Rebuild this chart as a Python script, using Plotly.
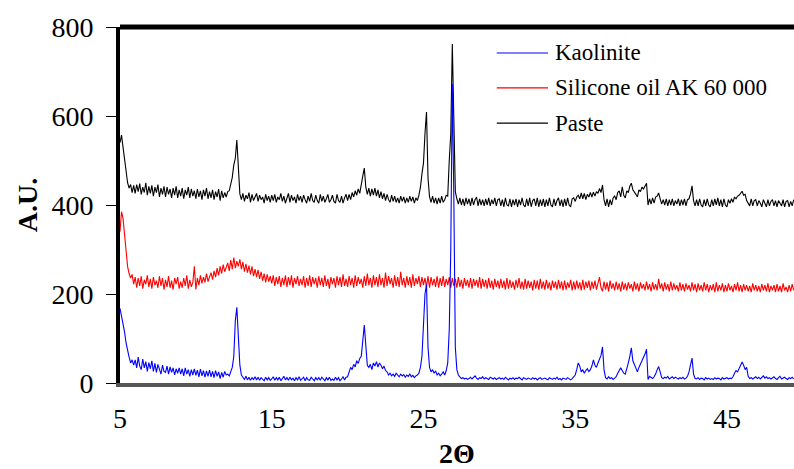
import plotly.graph_objects as go

# ---------------- data (2-theta from 5.0 deg in 0.1 deg steps) ----------------
two_theta_start = 5.0
two_theta_step = 0.1

kaolinite = [
    168, 150, 140, 115, 90, 70, 58, 45, 52, 40,
    52, 34, 58, 38, 30, 54, 34, 48, 26, 46,
    32, 50, 26, 44, 24, 42, 30, 20, 40, 26,
    24, 38, 20, 36, 24, 34, 18, 32, 22, 34,
    20, 32, 16, 34, 20, 30, 15, 30, 18, 32,
    17, 29, 14, 31, 16, 28, 13, 27, 15, 29,
    14, 26, 12, 28, 15, 25, 10, 24, 13, 26,
    18, 20, 16, 25, 35, 60, 140, 170, 110, 40,
    18, 12, 8, 15, 7, 13, 6, 12, 8, 14,
    7, 13, 6, 12, 9, 5, 13, 7, 12, 6,
    9, 14, 6, 12, 7, 13, 5, 11, 15, 7,
    12, 6, 13, 7, 11, 5, 12, 7, 14, 6,
    9, 13, 5, 12, 7, 6, 13, 9, 5, 12,
    7, 12, 6, 13, 9, 5, 12, 7, 13, 6,
    9, 6, 13, 7, 12, 5, 9, 14, 7, 13,
    14, 28, 35, 30, 42, 36, 50, 44, 55, 60,
    95, 130, 85, 40, 35, 42, 30, 45, 38, 48,
    36, 45, 40, 32, 38, 28, 25, 18, 22, 16,
    20, 15, 22, 18, 14, 20, 16, 19, 13, 18,
    15, 20, 14, 17, 12, 16, 18, 22, 35, 60,
    120, 200, 222, 80, 35, 25, 30, 22, 27, 18,
    22, 16, 20, 25, 18, 28, 45, 120, 300, 672,
    420, 80, 30, 18, 14, 10, 12, 9, 11, 8,
    10, 13, 9, 12, 16, 11, 8, 12, 10, 14,
    9, 12, 10, 8, 13, 11, 9, 12, 8, 10,
    12, 9, 11, 8, 13, 10, 7, 11, 9, 12,
    8, 11, 10, 13, 9, 7, 12, 10, 8, 11,
    10, 8, 12, 9, 11, 7, 10, 12, 8, 9,
    11, 9, 7, 12, 10, 8, 11, 9, 13, 8,
    10, 7, 11, 9, 8, 12, 9, 7, 10, 14,
    18, 30, 45, 38, 25, 30, 22, 28, 32, 26,
    30, 38, 52, 40, 35, 45, 55, 62, 81, 30,
    12, 9, 14, 10, 12, 8, 11, 14, 22, 30,
    34, 28, 22, 20, 30, 45, 60, 79, 50, 40,
    30, 25, 35, 45, 50, 58, 65, 76, 8, 15,
    12, 10, 14, 20, 30, 37, 25, 12, 10, 13,
    11, 15, 9, 12, 14, 10, 13, 11, 9, 12,
    10, 13, 9, 11, 15, 25, 45, 56, 20, 10,
    9, 12, 8, 11, 10, 7, 12, 9, 11, 8,
    10, 8, 12, 9, 11, 10, 7, 12, 9, 10,
    12, 9, 11, 10, 14, 22, 28, 25, 33, 38,
    47, 40, 30, 35, 15, 10, 12, 9, 11, 14,
    10, 13, 9, 12, 16, 11, 14, 10, 12, 9,
    11, 14, 10, 8, 12, 15, 9, 11, 13, 10,
    8, 12, 10, 13, 9,
]

silicone_oil = [
    340, 385, 370, 330, 290, 262, 246, 236, 244, 222,
    238, 214, 236, 218, 240, 212, 232, 222, 242, 216,
    234, 212, 238, 220, 230, 214, 240, 218, 236, 210,
    232, 216, 240, 214, 230, 210, 236, 222, 238, 212,
    228, 214, 236, 218, 242, 212, 232, 216, 226, 262,
    210, 236, 220, 242, 224, 238, 226, 246, 228, 240,
    248, 232, 252, 238, 258, 242, 262, 246, 266, 250,
    260, 270, 252, 276, 256, 282, 258, 274, 262, 278,
    256, 272, 250, 268, 248, 264, 244, 262, 240, 256,
    238, 254, 234, 250, 230, 246, 226, 244, 228, 240,
    224, 242, 218, 238, 222, 240, 216, 236, 220, 242,
    216, 238, 220, 242, 214, 236, 222, 240, 218, 234,
    220, 240, 214, 236, 218, 242, 216, 238, 222, 236,
    214, 240, 220, 236, 216, 242, 218, 234, 212, 238,
    222, 236, 214, 240, 220, 238, 216, 244, 218, 234,
    216, 240, 220, 236, 214, 242, 218, 238, 222, 234,
    214, 240, 218, 246, 220, 236, 214, 242, 220, 238,
    216, 244, 220, 236, 214, 248, 218, 240, 222, 236,
    214, 242, 218, 238, 216, 250, 220, 236, 214, 240,
    220, 238, 214, 244, 218, 236, 222, 240, 216, 238,
    220, 236, 216, 240, 214, 238, 220, 234, 216, 240,
    214, 236, 218, 240, 216, 234, 220, 238, 214, 236,
    218, 234, 214, 238, 216, 232, 212, 236, 218, 232,
    214, 236, 212, 234, 218, 232, 214, 238, 212, 234,
    216, 232, 212, 236, 214, 230, 210, 234, 216, 230,
    212, 234, 214, 230, 210, 236, 212, 232, 214, 228,
    210, 232, 214, 236, 212, 228, 210, 234, 212, 230,
    214, 228, 208, 232, 212, 230, 210, 234, 212, 228,
    210, 232, 212, 226, 208, 230, 214, 228, 210, 232,
    212, 228, 208, 230, 210, 226, 214, 232, 208, 228,
    210, 230, 212, 226, 208, 232, 210, 228, 214, 230,
    208, 228, 212, 230, 210, 226, 238, 214, 206, 228,
    210, 226, 206, 230, 212, 224, 208, 228, 210, 224,
    206, 228, 210, 224, 208, 226, 212, 222, 206, 228,
    210, 224, 206, 226, 212, 222, 208, 228, 210, 222,
    206, 226, 210, 222, 208, 234, 212, 224, 206, 226,
    210, 222, 206, 228, 208, 224, 210, 220, 206, 226,
    208, 222, 206, 224, 210, 220, 206, 226, 208, 222,
    204, 224, 208, 220, 206, 226, 208, 222, 204, 220,
    208, 222, 204, 226, 206, 220, 208, 224, 204, 220,
    206, 224, 208, 218, 204, 222, 208, 226, 206, 220,
    204, 222, 208, 220, 206, 218, 204, 224, 208, 220,
    206, 218, 204, 222, 208, 220, 206, 224, 204, 218,
    208, 220, 204, 222, 206, 218, 204, 224, 208, 216,
    204, 220, 206, 222, 208,
]

paste = [
    540, 557, 530, 500, 470, 450, 438, 446, 428, 444,
    426, 446, 430, 448, 424, 440, 428, 450, 422, 442,
    426, 444, 420, 440, 428, 446, 418, 438, 424, 442,
    418, 440, 424, 436, 416, 438, 422, 442, 416, 434,
    420, 438, 414, 434, 422, 440, 416, 436, 420, 432,
    414, 436, 418, 432, 412, 434, 420, 438, 414, 430,
    416, 434, 412, 430, 418, 436, 410, 432, 416, 428,
    418, 430, 432, 445, 462, 490, 505, 546, 470, 425,
    412, 426, 408, 422, 414, 428, 406, 424, 410, 420,
    426, 408, 422, 412, 418, 404, 424, 410, 420, 406,
    422, 410, 424, 406, 418, 412, 426, 408, 420, 404,
    416, 426, 406, 422, 410, 418, 404, 424, 410, 420,
    406, 422, 412, 404, 420, 408, 426, 410, 406, 422,
    410, 404, 424, 408, 420, 406, 414, 424, 406, 412,
    422, 408, 404, 424, 410, 406, 420, 404, 416, 424,
    410, 424, 412, 428, 418, 432, 422, 436, 426, 442,
    465, 483, 440, 424, 438, 420, 436, 422, 438, 420,
    434, 416, 430, 414, 426, 410, 424, 412, 406, 422,
    408, 420, 406, 416, 404, 420, 408, 418, 404, 416,
    406, 420, 408, 418, 404, 416, 410, 422, 440, 470,
    494, 560, 609, 460, 418, 406, 420, 404, 416, 402,
    416, 404, 420, 406, 412, 422, 420, 500, 560, 762,
    600, 430, 414, 402, 416, 400, 414, 398, 416, 402,
    414, 398, 416, 400, 412, 418, 398, 414, 400, 412,
    398, 414, 400, 416, 398, 412, 402, 416, 398, 412,
    414, 398, 412, 396, 416, 400, 398, 414, 396, 412,
    400, 414, 396, 412, 400, 416, 400, 396, 414, 398,
    416, 396, 410, 414, 398, 416, 396, 412, 398, 414,
    396, 412, 398, 416, 400, 396, 414, 398, 410, 416,
    398, 412, 396, 414, 398, 416, 400, 396, 414, 416,
    408, 418, 422, 414, 427, 414, 426, 412, 424, 418,
    428, 418, 429, 420, 430, 426, 437, 428, 445, 412,
    398, 414, 396, 412, 400, 416, 420, 412, 428, 432,
    418, 441, 422, 416, 432, 428, 442, 449, 434, 430,
    424, 418, 434, 430, 440, 436, 444, 449, 400, 414,
    402, 416, 404, 418, 420, 427, 414, 402, 412, 400,
    414, 398, 412, 400, 414, 398, 410, 402, 414, 398,
    412, 400, 414, 398, 412, 414, 425, 443, 410, 398,
    412, 398, 414, 400, 396, 412, 398, 414, 400, 396,
    412, 398, 414, 400, 416, 398, 412, 396, 414, 400,
    396, 412, 404, 414, 406, 418, 414, 420, 422, 428,
    431, 422, 424, 410, 404, 398, 414, 398, 410, 412,
    398, 410, 404, 396, 412, 402, 396, 412, 398, 408,
    412, 398, 410, 396, 410, 404, 398, 412, 396, 408,
    410, 396, 408, 398, 412,
]

series_names = ["Kaolinite", "Silicone oil AK 60 000", "Paste"]
series_colors = ["#0000FF", "#FF0000", "#000000"]
x_tick_vals = [5, 15, 25, 35, 45]
y_tick_vals = [0, 200, 400, 600, 800]


def angles(values):
    return [round(two_theta_start + two_theta_step * i, 2) for i in range(len(values))]


FONT = "Liberation Serif"

fig = go.Figure()
# draw order: paste, silicone oil, kaolinite on top
for vals, name, color in [(paste, series_names[2], series_colors[2]),
                          (silicone_oil, series_names[1], series_colors[1]),
                          (kaolinite, series_names[0], series_colors[0])]:
    fig.add_trace(go.Scatter(x=angles(vals), y=vals, mode="lines", name=name,
                             line=dict(color=color, width=1.1), showlegend=False))

# manual legend (long line samples like the original)
legend_rows_y = [0.927, 0.829, 0.730]
shapes = []
annotations = []
for name, color, yy in zip(series_names, series_colors, legend_rows_y):
    shapes.append(dict(type="line", xref="paper", yref="paper", x0=0.559, x1=0.635,
                       y0=yy, y1=yy, line=dict(color=color, width=1.2)))
    annotations.append(dict(xref="paper", yref="paper", x=0.642, y=yy, text=name,
                            showarrow=False, xanchor="left", yanchor="middle",
                            font=dict(family=FONT, size=23, color="black")))

# thick top border of plot area
shapes.append(dict(type="line", xref="paper", yref="paper", x0=0, x1=1, y0=1, y1=1,
                   line=dict(color="black", width=5)))

fig.update_layout(
    width=794, height=469,
    margin=dict(l=120, r=0, t=27, b=86, autoexpand=False),
    paper_bgcolor="white", plot_bgcolor="white",
    font=dict(family=FONT, color="black"),
    shapes=shapes, annotations=annotations,
    xaxis=dict(range=[5, 49.42], tickvals=x_tick_vals, ticks="", showgrid=False,
               zeroline=False, showline=True, linecolor="#555555", linewidth=4,
               automargin=False,
               tickfont=dict(family=FONT, size=28), ticklabelstandoff=7,
               title=dict(text="2Θ", font=dict(family=FONT, size=28, weight="bold"),
                          standoff=14)),
    yaxis=dict(range=[0, 800], tickvals=y_tick_vals, ticks="outside", ticklen=10,
               tickwidth=1, tickcolor="black", showgrid=False, zeroline=False,
               showline=True, linecolor="black", linewidth=4,
               automargin=False,
               tickfont=dict(family=FONT, size=28), ticklabelstandoff=7,
               title=dict(text="A.U.", font=dict(family=FONT, size=28, weight="bold"),
                          standoff=7)),
)

fig.write_html("out.html")
